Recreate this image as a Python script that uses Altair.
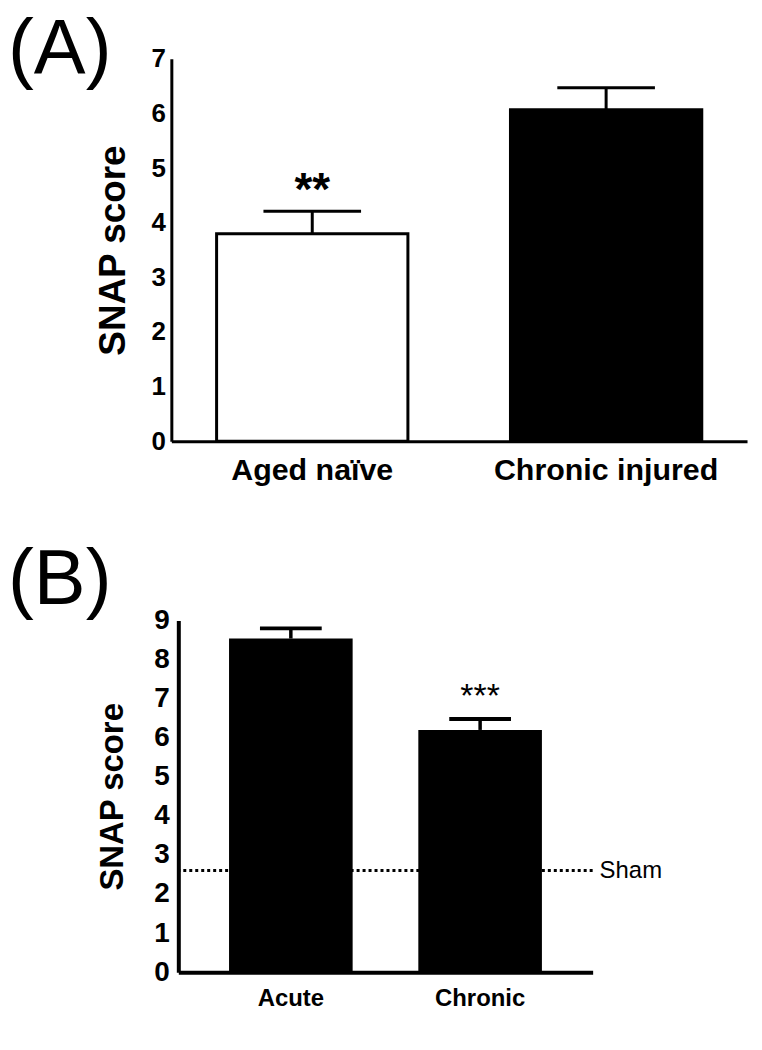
import altair as alt
import pandas as pd

FONT = "Liberation Sans"

# Panel A data
a_groups = ["Aged naïve", "Chronic injured"]
a_means = [3.8, 6.07]
a_sems = [0.41, 0.40]
a_fills = ["white", "black"]
a_stars = ["**", ""]

# Panel B data
b_groups = ["Acute", "Chronic"]
b_means = [8.54, 6.2]
b_sems = [0.26, 0.28]
b_stars = ["", "***"]
sham_value = [2.6]
sham_label = ["Sham"]

panel_labels = ["(A)", "(B)"]

dfa = pd.DataFrame({"group": a_groups, "mean": a_means, "sem": a_sems,
                    "fill": a_fills, "star": a_stars})
dfa["top"] = dfa["mean"] + dfa["sem"]
dfb = pd.DataFrame({"group": b_groups, "mean": b_means, "sem": b_sems, "star": b_stars})
dfb["top"] = dfb["mean"] + dfb["sem"]
dfs = pd.DataFrame({"value": sham_value, "label": sham_label})


def xenc(groups, pi, po, fs, lp, dw, rng=None):
    sc = dict(paddingInner=pi, paddingOuter=po)
    if rng is not None:
        sc["range"] = rng
    return alt.X("group:N", sort=groups,
                 scale=alt.Scale(**sc),
                 axis=alt.Axis(title=None, labelAngle=0, labelFont=FONT, labelFontSize=fs,
                               labelFontWeight="bold", labelColor="black", labelPadding=lp,
                               labelLimit=0, ticks=False, tickSize=0, domainColor="black",
                               domainWidth=dw, grid=False))


def yenc(field, top, fs, lp, tfs, tp, dw, off=0):
    return alt.Y(f"{field}:Q",
                 scale=alt.Scale(domain=[0, top], nice=False, zero=True),
                 axis=alt.Axis(title="SNAP score", values=list(range(top + 1)), format="d",
                               labelFont=FONT, labelFontSize=fs, labelFontWeight="bold",
                               labelColor="black", labelPadding=lp, ticks=False, tickSize=0,
                               domainColor="black", domainWidth=dw, grid=False, offset=off,
                               titleFont=FONT, titleFontSize=tfs, titleFontWeight="bold",
                               titleColor="black", titlePadding=tp))


def panel_label(text, dx, baseline_y):
    return alt.Chart(pd.DataFrame({"label": [text]})).mark_text(
        font=FONT, fontSize=78, color="black", align="left", baseline="alphabetic"
    ).encode(x=alt.value(dx), y=alt.value(baseline_y), text="label:N")


# ---------- Panel A ----------
# plot origin is shared with panel B; panel A's axis sits 7px further left
XA = xenc(a_groups, 0.349, 0.154, 30.5, 14, 3, rng=[-7, 571])

def YA(field):
    return yenc(field, 7, 26, 6, 37, 19, 3, off=7)

bars_a = alt.Chart(dfa).mark_bar(stroke="black", strokeWidth=3).encode(
    x=XA, y=YA("mean"), fill=alt.Fill("fill:N", scale=None))
err_a = alt.Chart(dfa).mark_rule(color="black", strokeWidth=3).encode(
    x=XA, y=YA("mean"), y2="top:Q")
cap_a = alt.Chart(dfa).mark_tick(color="black", thickness=3, size=98, opacity=1).encode(
    x=XA, y=YA("top"))
star_a = alt.Chart(dfa).mark_text(font=FONT, fontSize=46, fontWeight="bold", color="black",
                                  baseline="alphabetic", dy=-6).encode(
    x=XA, y=YA("top"), text="star:N")

panel_a = alt.layer(bars_a, err_a, cap_a, star_a,
                    panel_label(panel_labels[0], -171, 15)).properties(width=571, height=384)

# ---------- Panel B ----------
XB = xenc(b_groups, 0.347, 0.268, 24, 14, 4)

def YB(field):
    return yenc(field, 9, 28, 9, 33, 24, 4)

sham_rule = alt.Chart(dfs).mark_rule(color="black", strokeWidth=3, strokeDash=[3, 3]).encode(
    y=YB("value"))
bars_b = alt.Chart(dfb).mark_bar(color="black").encode(x=XB, y=YB("mean"))
err_b = alt.Chart(dfb).mark_rule(color="black", strokeWidth=3.5).encode(
    x=XB, y=YB("mean"), y2="top:Q")
cap_b = alt.Chart(dfb).mark_tick(color="black", thickness=4, size=62, opacity=1).encode(
    x=XB, y=YB("top"))
star_b = alt.Chart(dfb).mark_text(font=FONT, fontSize=34, fontWeight="normal", color="black",
                                  baseline="alphabetic", dy=-12).encode(
    x=XB, y=YB("top"), text="star:N")
sham_text = alt.Chart(dfs).mark_text(font=FONT, fontSize=24, color="black", align="left",
                                     baseline="middle", dx=7).encode(
    x=alt.value(416), y=YB("value"), text="label:N")

panel_b = alt.layer(sham_rule, bars_b, err_b, cap_b, star_b, sham_text,
                    panel_label(panel_labels[1], -171, -17)).properties(width=416, height=353)

chart = alt.vconcat(panel_a, panel_b, spacing=56).properties(
    padding={"left": 0, "top": 2, "right": 0, "bottom": 0},
    background="white",
).configure_view(stroke=None)

chart.save("out.html", embed_options={"renderer": "svg", "actions": False})
